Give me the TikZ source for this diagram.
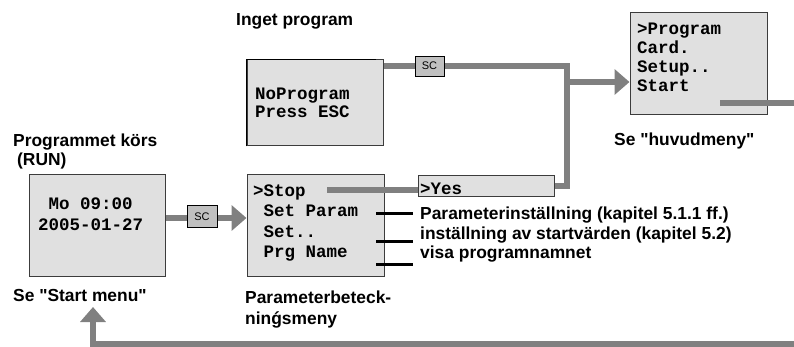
\documentclass[tikz,border=0pt]{standalone}
\usepackage{fontspec}
\setmainfont{Liberation Sans}[Ligatures=TeXOff]
\newfontfamily\lcdfont{Liberation Mono}[BoldFont={* Bold}]
\usetikzlibrary{arrows.meta,positioning,calc}
\definecolor{lcdgray}{RGB}{224,224,224}
\definecolor{keygray}{RGB}{192,192,192}
\definecolor{wiregray}{RGB}{128,128,128}
\definecolor{edgegray}{RGB}{60,60,60}

\begin{document}
\begin{tikzpicture}[
    x=1pt, y=-1pt,
    lcd/.style={rectangle, draw=edgegray, line width=1pt, fill=lcdgray, inner sep=0pt},
    lcdtext/.style={anchor=base west, inner sep=0pt, font=\lcdfont\bfseries\fontsize{17.5}{19.5}\selectfont},
    key/.style={rectangle, draw=black, line width=0.8pt, fill=keygray, minimum width=29pt, minimum height=20pt, inner sep=0pt, font=\fontsize{11}{12}\selectfont},
    label/.style={anchor=base west, inner sep=0pt, font=\bfseries\fontsize{17.4}{21}\selectfont},
    wire/.style={draw=wiregray, line width=6pt},
    wirearrow/.style={wire, -{Triangle[length=15pt, width=25pt]}},
    tick/.style={draw=black, line width=3pt}
]
\useasboundingbox (0,0) rectangle (794,347);

% Displays
\node[lcd, minimum width=136pt, minimum height=86pt] (noprog) at (315,103) {};
\node[lcd, minimum width=137pt, minimum height=102pt] (mainmenu) at (698.5,64) {};
\node[lcd, minimum width=136pt, minimum height=101pt] (runscreen) at (97,225.5) {};
\node[lcd, minimum width=137pt, minimum height=101pt] (parammenu) at (315.5,225.5) {};
\node[lcd, minimum width=136pt, minimum height=21pt] (yesbox) at (486,186.5) {};
\draw[black, line width=1.5pt] (noprog.south west) -- (noprog.north west) -- ([xshift=-8pt]noprog.north east);

% Display texts
\node[lcdtext] (np1) at (255,100) {NoProgram};
\node[lcdtext] (np2) at (255,118) {Press ESC};
\node[lcdtext] (mm1) at (637,35) {>Program};
\node[lcdtext] (mm2) at (637,54) {Card.};
\node[lcdtext] (mm3) at (637,73) {Setup..};
\node[lcdtext] (mm4) at (637,92) {Start};
\node[lcdtext] (rs1) at (48.5,210) {Mo 09:00};
\node[lcdtext] (rs2) at (38,230) {2005-01-27};
\node[lcdtext] (pm1) at (253,197) {>Stop};
\node[lcdtext] (pm2) at (263.5,217) {Set Param};
\node[lcdtext] (pm3) at (263.5,237) {Set..};
\node[lcdtext] (pm4) at (263.5,257) {Prg Name};
\node[lcdtext] (ys1) at (420,195) {>Yes};

% Labels
\node[label] (lblnoprog) at (236,25.5) {Inget program};
\node[label] (lblrun1) at (13,147) {Programmet körs};
\node[label] (lblrun2) at (17,166) {(RUN)};
\node[label] (lblmain) at (614,146) {Se "huvudmeny"};
\node[label] (lblstart) at (13,301) {Se "Start menu"};
\node[label] (lblparam1) at (245,303) {Parameterbeteck-};
\node[label] (lblparam2) at (245,324) {ninǵsmeny};
\node[label] (note1) at (420,220) {Parameterinställning (kapitel 5.1.1 ff.)};
\node[label] (note2) at (420,240) {inställning av startvärden (kapitel 5.2)};
\node[label] (note3) at (420,258) {visa programnamnet};

% Helper points
\coordinate (join) at (567,66);
\coordinate (tee) at (567,82);
\coordinate (stopout) at (327,190);
\coordinate (startout) at (720,103);
\coordinate (rightedge) at (794,103);
\coordinate (back) at (794,344);
\coordinate (backup) at (93,307);

% Gray connectors
\draw[wire] (noprog.east |- join) -- (join);
\draw[wire] (yesbox.east) -- (join |- yesbox.east) -- ([yshift=3pt]join);
\draw[wirearrow] (tee) -- (tee -| mainmenu.west);
\draw[wire] (startout) -- (rightedge);
\draw[wire] (stopout) -- (stopout -| yesbox.west);
\draw[wire] (runscreen.east |- 0,218) -- (187,218);
\draw[wirearrow] (217,218) -- (parammenu.west |- 0,218);
\draw[wirearrow] (back) -- (back -| backup) -- (backup);

% Keys
\node[key] (sctop) at (429.5,66) {SC};
\node[key, minimum width=30pt, minimum height=22pt] (scbottom) at (202,216.5) {SC};

% Black ticks
\draw[tick] (376,214) -- (413,214);
\draw[tick] (376,241) -- (413,241);
\draw[tick] (376,264) -- (413,264);

\end{tikzpicture}
\end{document}
